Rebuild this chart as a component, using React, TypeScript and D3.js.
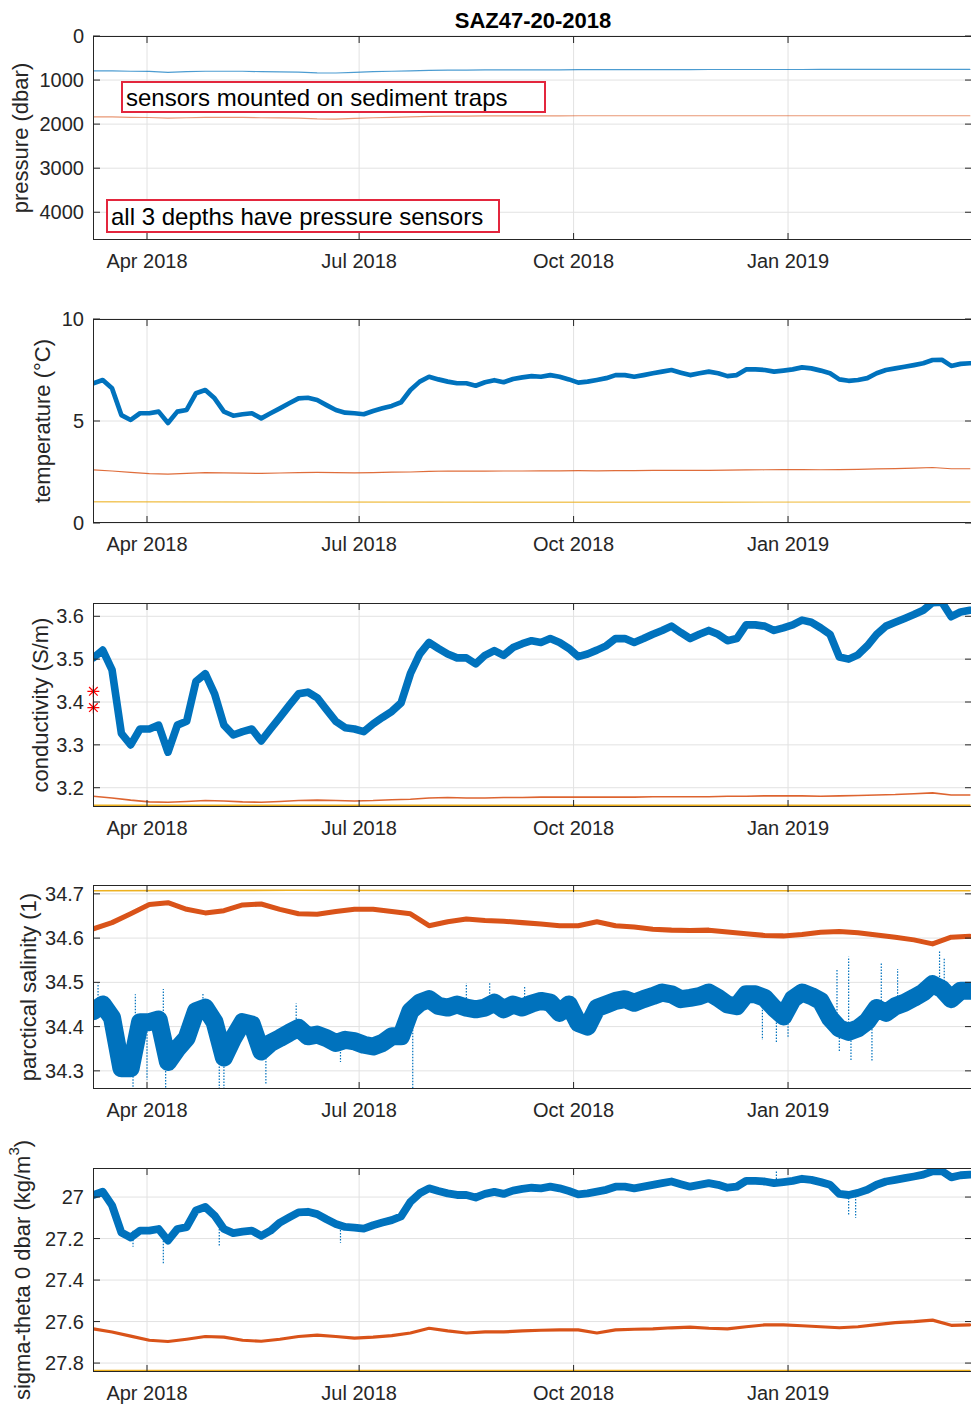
import * as d3 from "d3"

const W = 971
const H = 1407
const LEFT = 93
const RIGHT = 972
const PANEL_H = 204
const PANEL_TOPS = [36, 319, 603, 885, 1168]

const BLUE = "#0072BD"
const ORANGE = "#D95319"
const YELLOW = "#EDB120"
const AXIS = "#262626"
const GRID = "#e2e2e2"
const FONT = "'Liberation Sans', Arial, Helvetica, sans-serif"

const parse = d3.timeParse("%Y-%m-%d")

// shallow instrument, every 4 days from 9 Mar 2018
const fastDates = d3.timeDay.range(new Date(2018, 2, 9), new Date(2019, 2, 21), 4)
// mid-depth instrument, every 8 days
const slowDates = d3.timeDay.range(new Date(2018, 2, 9), new Date(2019, 2, 21), 8)
// deepest instrument
const deepDates = ["2018-03-09", "2018-06-01", "2018-09-01", "2018-12-01", "2019-03-20"].map((s) => parse(s)!)

const xTickDates = ["2018-04-01", "2018-07-01", "2018-10-01", "2019-01-01"].map((s) => parse(s)!)

// ---- pressure (dbar)
const presBlue = [
  790, 790, 800, 805, 825, 810, 800, 800, 800, 810, 815, 820, 835, 840, 825, 810, 800, 790, 780, 775,
  775, 770, 770, 770, 768, 768, 765, 765, 765, 765, 762, 762, 762, 760, 760, 760, 760, 760, 760, 758,
  758, 758, 758, 758, 758, 758, 758, 758,
]
const presOrange = [
  1835, 1835, 1845, 1850, 1865, 1855, 1845, 1845, 1845, 1855, 1860, 1865, 1880, 1885, 1870, 1855, 1845, 1835, 1825, 1820,
  1820, 1815, 1815, 1815, 1813, 1813, 1810, 1810, 1810, 1810, 1810, 1810, 1810, 1810, 1810, 1810, 1810, 1810, 1810, 1810,
  1810, 1810, 1810, 1810, 1810, 1810, 1810, 1810,
]
const presYellow = [4622, 4624, 4623, 4622, 4622]

// ---- temperature (degC)
const tempBlue = [
  6.85, 7.01, 6.6, 5.29, 5.05, 5.38, 5.38, 5.46, 4.9, 5.46,
  5.54, 6.36, 6.52, 6.11, 5.46, 5.26, 5.33, 5.38, 5.13, 5.38,
  5.62, 5.87, 6.11, 6.14, 6.03, 5.78, 5.54, 5.41, 5.38, 5.33,
  5.49, 5.62, 5.74, 5.92, 6.52, 6.93, 7.17, 7.04, 6.93, 6.85,
  6.85, 6.73, 6.9, 7.0, 6.9, 7.06, 7.14, 7.2, 7.17, 7.25,
  7.17, 7.04, 6.88, 6.93, 7.01, 7.1, 7.25, 7.25, 7.17, 7.25,
  7.34, 7.42, 7.5, 7.37, 7.25, 7.34, 7.42, 7.34, 7.2, 7.25,
  7.53, 7.53, 7.5, 7.42, 7.47, 7.53, 7.63, 7.58, 7.47, 7.34,
  7.04, 6.97, 7.01, 7.1, 7.34, 7.5, 7.58, 7.66, 7.74, 7.83,
  7.99, 8.0, 7.7, 7.8, 7.83,
]
const tempOrange = [
  2.6, 2.55, 2.48, 2.42, 2.4, 2.43, 2.47, 2.46, 2.44, 2.43, 2.45, 2.47, 2.48, 2.47, 2.46, 2.47,
  2.49, 2.5, 2.53, 2.55, 2.54, 2.54, 2.55, 2.55, 2.56, 2.56, 2.57, 2.56, 2.57, 2.57, 2.58, 2.58,
  2.58, 2.58, 2.59, 2.6, 2.61, 2.62, 2.62, 2.61, 2.62, 2.63, 2.65, 2.67, 2.69, 2.72, 2.66, 2.66,
]
const tempYellow = [1.04, 1.03, 1.02, 1.02, 1.03]

// ---- conductivity (S/m)
const condBlue = [
  3.503, 3.521, 3.475, 3.327, 3.3, 3.337, 3.337, 3.346, 3.283, 3.346,
  3.355, 3.448, 3.466, 3.419, 3.346, 3.323, 3.331, 3.337, 3.309, 3.337,
  3.364, 3.392, 3.419, 3.423, 3.41, 3.382, 3.355, 3.34, 3.337, 3.331,
  3.349, 3.364, 3.378, 3.398, 3.466, 3.512, 3.539, 3.525, 3.512, 3.503,
  3.503, 3.489, 3.509, 3.52, 3.509, 3.527, 3.536, 3.543, 3.539, 3.548,
  3.539, 3.525, 3.506, 3.512, 3.521, 3.531, 3.548, 3.548, 3.539, 3.548,
  3.558, 3.567, 3.577, 3.562, 3.548, 3.558, 3.567, 3.558, 3.543, 3.548,
  3.58, 3.58, 3.577, 3.567, 3.573, 3.58, 3.591, 3.586, 3.573, 3.558,
  3.505, 3.5, 3.51, 3.531, 3.558, 3.577, 3.586, 3.595, 3.604, 3.614,
  3.632, 3.633, 3.599, 3.61, 3.614,
]
const condOrange = [
  3.18, 3.176, 3.171, 3.167, 3.166, 3.168, 3.17, 3.169, 3.167, 3.166, 3.168, 3.17, 3.171, 3.17, 3.169, 3.17,
  3.172, 3.173, 3.176, 3.177, 3.176, 3.176, 3.177, 3.177, 3.178, 3.178, 3.178, 3.178, 3.178, 3.178, 3.179, 3.179,
  3.179, 3.179, 3.18, 3.18, 3.181, 3.181, 3.181, 3.18, 3.181, 3.182, 3.183, 3.184, 3.186, 3.188, 3.183, 3.183,
]
const condYellow = [3.159, 3.159, 3.159, 3.159, 3.159]
const calDates = ["2018-03-09", "2018-03-09"].map((s) => parse(s)!)
const calValues = [3.425, 3.387]

// ---- practical salinity
const salBlue = [
  34.435, 34.45, 34.42, 34.306, 34.306, 34.41, 34.41, 34.416, 34.32, 34.35,
  34.374, 34.435, 34.443, 34.41, 34.33, 34.374, 34.41, 34.405, 34.344, 34.363,
  34.374, 34.386, 34.397, 34.378, 34.382, 34.374, 34.363, 34.37, 34.367, 34.359,
  34.355, 34.363, 34.378, 34.378, 34.435, 34.454, 34.462, 34.447, 34.443, 34.45,
  34.443, 34.439, 34.443, 34.454, 34.439, 34.45, 34.443, 34.452, 34.458, 34.454,
  34.431, 34.45, 34.408, 34.4, 34.442, 34.45, 34.458, 34.462, 34.454, 34.462,
  34.469, 34.477, 34.473, 34.462, 34.465, 34.469, 34.477, 34.465, 34.45, 34.446,
  34.473, 34.473, 34.465, 34.442, 34.423, 34.462, 34.477, 34.469, 34.458, 34.419,
  34.396, 34.388, 34.396, 34.412, 34.442, 34.431, 34.446, 34.454, 34.465, 34.477,
  34.496, 34.485, 34.462, 34.481, 34.481,
]
const salSpikeDates = [
  "2018-03-11", "2018-03-26", "2018-03-27", "2018-04-01", "2018-04-08", "2018-04-09", "2018-04-25",
  "2018-05-02", "2018-05-04", "2018-05-22", "2018-06-04", "2018-06-23", "2018-07-24", "2018-08-16",
  "2018-08-26", "2018-09-10", "2018-12-21", "2018-12-27", "2019-01-01", "2019-01-22", "2019-01-23",
  "2019-01-27", "2019-01-28", "2019-02-06", "2019-02-10", "2019-02-17", "2019-03-07", "2019-03-09",
].map((s) => parse(s)!)
const salSpikeValues = [
  34.498, 34.256, 34.473, 34.28, 34.485, 34.256, 34.475,
  34.26, 34.26, 34.268, 34.452, 34.32, 34.256, 34.498,
  34.498, 34.49, 34.37, 34.365, 34.377, 34.531, 34.342,
  34.558, 34.323, 34.323, 34.546, 34.53, 34.573, 34.554,
]
const salOrange = [
  34.621, 34.635, 34.655, 34.676, 34.68, 34.665, 34.657, 34.662, 34.675, 34.677, 34.665, 34.655, 34.654, 34.66, 34.665, 34.665,
  34.66, 34.655, 34.628, 34.637, 34.643, 34.64, 34.638, 34.635, 34.632, 34.628, 34.628, 34.637, 34.628, 34.625, 34.62, 34.618,
  34.617, 34.618, 34.614, 34.61, 34.606, 34.605, 34.608, 34.613, 34.615, 34.612, 34.607, 34.602, 34.596, 34.587, 34.602, 34.604,
]
const salYellow = [34.707, 34.708, 34.707, 34.707, 34.707]

// ---- sigma-theta (kg/m3)
const sigBlue = [
  26.99, 26.974, 27.04, 27.171, 27.195, 27.162, 27.162, 27.154, 27.21, 27.154,
  27.145, 27.064, 27.048, 27.089, 27.154, 27.174, 27.167, 27.162, 27.187, 27.162,
  27.123, 27.098, 27.074, 27.071, 27.082, 27.107, 27.13, 27.144, 27.147, 27.152,
  27.136, 27.123, 27.111, 27.093, 27.023, 26.982, 26.958, 26.971, 26.982, 26.99,
  26.99, 27.002, 26.985, 26.975, 26.985, 26.969, 26.961, 26.955, 26.958, 26.95,
  26.958, 26.971, 26.987, 26.982, 26.974, 26.965, 26.95, 26.95, 26.958, 26.95,
  26.941, 26.933, 26.925, 26.938, 26.95, 26.941, 26.933, 26.941, 26.955, 26.95,
  26.922, 26.922, 26.925, 26.933, 26.928, 26.922, 26.912, 26.917, 26.928, 26.941,
  26.985, 26.99, 26.98, 26.965, 26.941, 26.925, 26.917, 26.909, 26.901, 26.892,
  26.876, 26.875, 26.905, 26.895, 26.892,
]
const sigSpikeDates = ["2018-03-26", "2018-04-08", "2018-05-02", "2018-06-23", "2018-12-27", "2019-01-27", "2019-01-30"].map((s) => parse(s)!)
const sigSpikeValues = [27.24, 27.32, 27.24, 27.22, 26.87, 27.09, 27.1]
const sigOrange = [
  27.635, 27.65, 27.67, 27.69, 27.696, 27.685, 27.672, 27.675, 27.69, 27.695, 27.685, 27.672, 27.665, 27.672, 27.68, 27.675,
  27.668, 27.655, 27.632, 27.645, 27.655, 27.65, 27.65, 27.645, 27.642, 27.64, 27.64, 27.655, 27.64, 27.637, 27.635, 27.63,
  27.627, 27.632, 27.635, 27.625, 27.616, 27.616, 27.62, 27.625, 27.63, 27.625, 27.615, 27.605, 27.6, 27.593, 27.618, 27.616,
]
const sigYellow = [27.836, 27.836, 27.836, 27.836, 27.836]

interface Series {
  dates: Date[]
  values: number[]
  color: string
  width: number
  opacity?: number
  band?: number
  spikeDates?: Date[]
  spikeValues?: number[]
}

interface PanelCfg {
  domain: [number, number]
  ticks: number[]
  label: string
  labelX: number
  series: Series[]
  sup?: boolean
}

const panels: PanelCfg[] = [
  {
    domain: [4630, 0],
    ticks: [0, 1000, 2000, 3000, 4000],
    label: "pressure (dbar)",
    labelX: 20,
    series: [
      { dates: slowDates, values: presBlue, color: BLUE, width: 1.2, opacity: 0.7 },
      { dates: slowDates, values: presOrange, color: ORANGE, width: 1.2, opacity: 0.6 },
      { dates: deepDates, values: presYellow, color: YELLOW, width: 1.5 },
    ],
  },
  {
    domain: [0, 10],
    ticks: [0, 5, 10],
    label: "temperature (°C)",
    labelX: 42,
    series: [
      { dates: fastDates, values: tempBlue, color: BLUE, width: 1.2, band: 0.085 },
      { dates: slowDates, values: tempOrange, color: ORANGE, width: 1.2, opacity: 0.85 },
      { dates: deepDates, values: tempYellow, color: YELLOW, width: 1.4, opacity: 0.7 },
    ],
  },
  {
    domain: [3.155, 3.631],
    ticks: [3.2, 3.3, 3.4, 3.5, 3.6],
    label: "conductivity (S/m)",
    labelX: 40,
    series: [
      { dates: fastDates, values: condBlue, color: BLUE, width: 1.2, band: 0.0075 },
      { dates: slowDates, values: condOrange, color: ORANGE, width: 1.6, opacity: 0.9 },
      { dates: deepDates, values: condYellow, color: YELLOW, width: 1.5 },
    ],
  },
  {
    domain: [34.259, 34.72],
    ticks: [34.3, 34.4, 34.5, 34.6, 34.7],
    label: "parctical salinity (1)",
    labelX: 28,
    series: [
      {
        dates: fastDates,
        values: salBlue,
        color: BLUE,
        width: 1.2,
        band: 0.019,
        spikeDates: salSpikeDates,
        spikeValues: salSpikeValues,
      },
      { dates: slowDates, values: salOrange, color: ORANGE, width: 1.5, band: 0.004 },
      { dates: deepDates, values: salYellow, color: YELLOW, width: 1.6 },
    ],
  },
  {
    domain: [27.843, 26.86],
    ticks: [27, 27.2, 27.4, 27.6, 27.8],
    label: "sigma-theta 0 dbar (kg/m",
    labelX: 22,
    sup: true,
    series: [
      {
        dates: fastDates,
        values: sigBlue,
        color: BLUE,
        width: 1.2,
        band: 0.016,
        spikeDates: sigSpikeDates,
        spikeValues: sigSpikeValues,
      },
      { dates: slowDates, values: sigOrange, color: ORANGE, width: 1.5, band: 0.004 },
      { dates: deepDates, values: sigYellow, color: YELLOW, width: 1.6 },
    ],
  },
]

const x = d3
  .scaleTime()
  .domain([new Date(2018, 2, 8, 20), new Date(2019, 2, 20, 22)])
  .range([LEFT, RIGHT])

const fmtMonth = d3.timeFormat("%b %Y")

function asteriskPath(cx: number, cy: number, r: number) {
  const d = r * 0.72
  return (
    `M${cx - r},${cy}H${cx + r}M${cx},${cy - r}V${cy + r}` +
    `M${cx - d},${cy - d}L${cx + d},${cy + d}M${cx - d},${cy + d}L${cx + d},${cy - d}`
  )
}

function Panel({ p, idx }: { p: PanelCfg; idx: number }) {
  const top = PANEL_TOPS[idx]
  const bottom = top + PANEL_H
  const y = d3.scaleLinear().domain(p.domain).range([bottom, top])
  const clipId = `clip-${idx}`
  const midY = (top + bottom) / 2
  const mid = (p.domain[0] + p.domain[1]) / 2

  return (
    <g>
      <defs>
        <clipPath id={clipId}>
          <rect x={LEFT} y={top} width={RIGHT - LEFT} height={PANEL_H} />
        </clipPath>
      </defs>

      {/* grid */}
      {xTickDates.map((t, i) => (
        <line key={"gx" + i} x1={x(t)} x2={x(t)} y1={top} y2={bottom} stroke={GRID} strokeWidth={1} />
      ))}
      {p.ticks.map((v, i) => (
        <line key={"gy" + i} x1={LEFT} x2={RIGHT} y1={y(v)} y2={y(v)} stroke={GRID} strokeWidth={1} />
      ))}

      <g clipPath={`url(#${clipId})`}>
        {p.series.map((s, j) => {
          const pts: [Date, number][] = s.dates.map((d, k) => [d, s.values[k]])
          const line = d3
            .line<[Date, number]>()
            .x((d) => x(d[0]))
            .y((d) => y(d[1]))
          // noise spread drawn as a wide stroke so it keeps its thickness on steep parts
          const spreadPx = s.band ? Math.abs(y(mid + s.band) - y(mid)) * 2 + s.width : s.width
          return (
            <g key={j} opacity={s.opacity ?? 1}>
              {s.spikeDates &&
                s.spikeDates.map((d, k) => {
                  const i = d3.bisectLeft(s.dates, d)
                  const base = s.values[Math.min(i, s.values.length - 1)]
                  return (
                    <line
                      key={"sp" + k}
                      x1={x(d)}
                      x2={x(d)}
                      y1={y(base)}
                      y2={y(s.spikeValues![k])}
                      stroke={s.color}
                      strokeWidth={1.2}
                      strokeDasharray="1.5,1.5"
                    />
                  )
                })}
              <path
                d={line(pts) ?? ""}
                fill="none"
                stroke={s.color}
                strokeWidth={spreadPx}
                strokeLinejoin="round"
                strokeLinecap="round"
              />
            </g>
          )
        })}
      </g>

      {idx === 2 && (
        <g>
          <line
            x1={x(calDates[0])}
            x2={x(calDates[1])}
            y1={y(calValues[0])}
            y2={y(calValues[1])}
            stroke="#ff0000"
            strokeWidth={1}
          />
          {calDates.map((d, k) => (
            <path key={k} d={asteriskPath(x(d), y(calValues[k]), 6)} stroke="#ff0000" strokeWidth={1.2} fill="none" />
          ))}
        </g>
      )}

      {/* frame */}
      <rect x={LEFT + 0.5} y={top + 0.5} width={RIGHT - LEFT} height={PANEL_H - 1} fill="none" stroke={AXIS} strokeWidth={1} />

      {/* ticks */}
      {p.ticks.map((v, i) => (
        <g key={"ty" + i}>
          <line x1={LEFT} x2={LEFT + 7} y1={y(v)} y2={y(v)} stroke={AXIS} />
          <line x1={RIGHT - 7} x2={RIGHT} y1={y(v)} y2={y(v)} stroke={AXIS} />
          <text x={84} y={y(v)} textAnchor="end" dominantBaseline="central" fontSize={20} fill={AXIS}>
            {String(v)}
          </text>
        </g>
      ))}
      {xTickDates.map((t, i) => (
        <g key={"tx" + i}>
          <line x1={x(t)} x2={x(t)} y1={bottom - 7} y2={bottom} stroke={AXIS} />
          <line x1={x(t)} x2={x(t)} y1={top} y2={top + 7} stroke={AXIS} />
          <text x={x(t)} y={bottom + 21} textAnchor="middle" dominantBaseline="central" fontSize={20} fill={AXIS}>
            {fmtMonth(t)}
          </text>
        </g>
      ))}

      {/* y label */}
      <text
        transform={`translate(${p.labelX},${midY}) rotate(-90)`}
        textAnchor="middle"
        dominantBaseline="central"
        fontSize={22}
        fill={AXIS}
      >
        {p.label}
        {p.sup && (
          <>
            <tspan fontSize={15} dy={-9}>
              3
            </tspan>
            <tspan dy={9}>)</tspan>
          </>
        )}
      </text>
    </g>
  )
}

export default function App() {
  return (
    <>
      <style>{`body{margin:0;}`}</style>
      <svg width={W} height={H} style={{ display: "block", fontFamily: FONT }}>
        <rect width={W} height={H} fill="#ffffff" />
        <text x={533} y={20} textAnchor="middle" dominantBaseline="central" fontSize={22} fontWeight="bold" fill="#000">
          SAZ47-20-2018
        </text>
        {panels.map((p, i) => (
          <Panel key={i} p={p} idx={i} />
        ))}

        {/* annotations on the pressure panel */}
        <rect x={122} y={82} width={423} height={30} fill="#ffffff" stroke="#e3263d" strokeWidth={2} />
        <text x={126} y={97.5} dominantBaseline="central" fontSize={24} fill="#000">
          sensors mounted on sediment traps
        </text>
        <rect x={107} y={200} width={392} height={32} fill="#ffffff" stroke="#e3263d" strokeWidth={2} />
        <text x={111} y={216.5} dominantBaseline="central" fontSize={24} fill="#000">
          all 3 depths have pressure sensors
        </text>
      </svg>
    </>
  )
}
